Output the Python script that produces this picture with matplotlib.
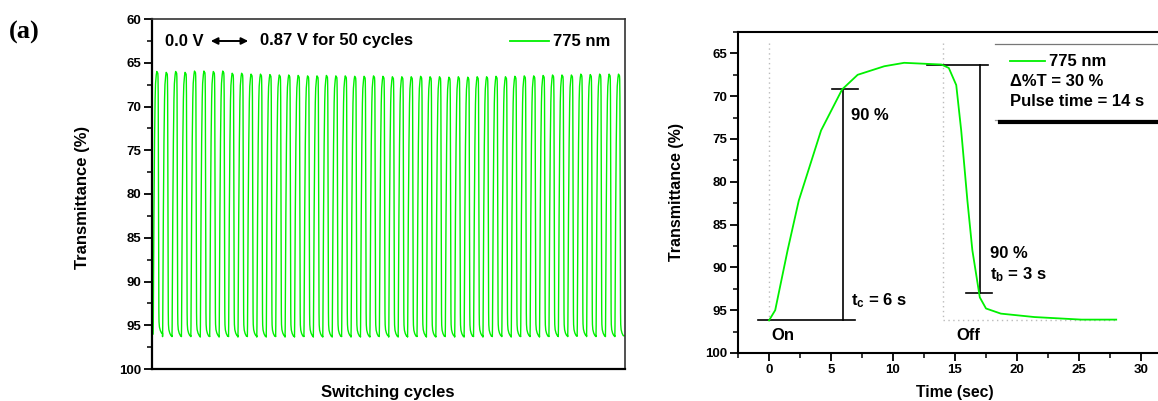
import numpy as np
import matplotlib
matplotlib.use("Agg")
import matplotlib.pyplot as plt
from matplotlib.lines import Line2D
from matplotlib.ticker import MultipleLocator

plt.rcParams['font.family'] = ['Liberation Sans', 'DejaVu Sans']
plt.rcParams['font.weight'] = 'bold'

# ---------------- data ----------------
# single switching cycle (right panel), time in s, transmittance in %
cycle_time = [0, 0.5, 1.5, 2.4, 4.2, 5.9, 7.15, 9.3, 10.9, 13.9, 14.5, 15.1,
              15.5, 16.0, 16.4, 17.0, 17.5, 18.7, 21.4, 25.2, 28.0]
cycle_T = [96.2, 95.0, 88.0, 82.2, 74.0, 69.2, 67.5, 66.5, 66.1, 66.3, 66.7, 68.7,
           74.0, 82.2, 88.0, 93.5, 94.8, 95.4, 95.8, 96.1, 96.1]

# 50 switching cycles (left panel): bleached (top) and coloured (bottom) levels
peak_T = [66.0, 66.1, 66.0, 66.1, 65.95, 65.95, 66.0, 65.95, 66.2, 66.2,
          66.3, 66.3, 66.35, 66.4, 66.4, 66.45, 66.5, 66.5, 66.45, 66.5,
          66.5, 66.55, 66.55, 66.5, 66.55, 66.6, 66.6, 66.6, 66.55, 66.6,
          66.6, 66.65, 66.6, 66.65, 66.6, 66.6, 66.55, 66.6, 66.55, 66.5,
          66.5, 66.45, 66.4, 66.4, 66.4, 66.3, 66.35, 66.3, 66.3, 66.3]
trough_T = [96.0, 96.3, 96.3, 96.3, 96.3, 96.35, 96.3, 96.35, 96.3, 96.35,
            96.3, 96.35, 96.35, 96.3, 96.35, 96.35, 96.3, 96.35, 96.35, 96.35,
            96.3, 96.35, 96.35, 96.35, 96.3, 96.35, 96.35, 96.35, 96.3, 96.35,
            96.35, 96.3, 96.35, 96.35, 96.3, 96.35, 96.3, 96.3, 96.35, 96.3,
            96.3, 96.35, 96.3, 96.3, 96.3, 96.25, 96.3, 96.3, 96.3, 96.3]

left_yticks = [60, 65, 70, 75, 80, 85, 90, 95, 100]
right_yticks = [65, 70, 75, 80, 85, 90, 95, 100]
right_xticks = [0, 5, 10, 15, 20, 25, 30]

GREEN = '#00f000'
W, H = 1158, 401
TXT = 12
TICK = 9.5

fig = plt.figure(figsize=(W / 100, H / 100), dpi=100)


def fx(px):
    return px / W


def fy(py):
    return 1 - py / H


# ---------------- left panel ----------------
axL = fig.add_axes([fx(152), fy(369), fx(625) - fx(152), fy(19) - fy(369)])
ct = np.array(cycle_time)
cT = np.array(cycle_T)
frac = (cT.max() - cT) / (cT.max() - cT.min())
period = ct[-1]
xs, ys = [], []
for i, (pk, tr) in enumerate(zip(peak_T, trough_T)):
    xs.append(i + ct / period)
    ys.append(tr + frac * (pk - tr))
axL.plot(np.concatenate(xs), np.concatenate(ys), color=GREEN, lw=1.0)
axL.set_xlim(-0.12, 50.08)
axL.set_ylim(100, 60)
axL.set_yticks(left_yticks)
axL.yaxis.set_minor_locator(MultipleLocator(2.5))
axL.set_xticks([])
axL.tick_params(axis='y', which='major', direction='out', length=6, width=1.3,
                labelsize=TICK, pad=1.5)
axL.tick_params(axis='y', which='minor', direction='out', length=3.5, width=1.1)
for lab in axL.get_yticklabels():
    lab.set_fontweight('bold')
for s in ['left', 'bottom']:
    axL.spines[s].set_linewidth(1.6)
for s in ['top', 'right']:
    axL.spines[s].set_linewidth(1.2)
    axL.spines[s].set_color('#333333')
fig.text(fx(83), fy(197), 'Transmittance (%)', fontsize=12, fontweight='bold',
         rotation=90, ha='center', va='center')
fig.text(fx(388), fy(392), 'Switching cycles', fontsize=12, fontweight='bold',
         ha='center', va='center')

fig.text(fx(165), fy(41), '0.0 V', fontsize=TXT, fontweight='bold', ha='left', va='center')
fig.add_artist(matplotlib.patches.FancyArrowPatch(
    (fx(208), fy(41)), (fx(251), fy(41)), transform=fig.transFigure,
    arrowstyle='<|-|>', mutation_scale=10, color='black', lw=1.4))
fig.text(fx(260), fy(41), '0.87 V for 50 cycles', fontsize=TXT, fontweight='bold',
         ha='left', va='center')
fig.add_artist(Line2D([fx(510), fx(549)], [fy(41), fy(41)], color=GREEN, lw=1.3))
fig.text(fx(553), fy(41), '775 nm', fontsize=TXT, fontweight='bold', ha='left', va='center')

fig.text(fx(9), fy(32), '(a)', fontsize=19, family=['Liberation Serif'],
         fontweight='bold', ha='left', va='center')

# ---------------- right panel ----------------
x0 = 738
x_right = 769 + 32.5 * 12.4
axR = fig.add_axes([fx(x0), fy(353), fx(x_right) - fx(x0), fy(32) - fy(353)])
axR.set_xlim(-2.5, 32.5)
axR.set_ylim(100, 62.5)

# guide lines
dot = dict(color='#bbbbbb', lw=1.0, ls=(0, (1, 2.5)))
axR.plot([0, 0], [63.8, 96.2], **dot)
axR.plot([14, 14], [63.8, 96.2], **dot)
axR.plot([14, 28], [96.2, 96.2], **dot)

axR.plot(cycle_time, cycle_T, color=GREEN, lw=1.3, zorder=3)

blk = dict(color='black', lw=1.2)
axR.plot([-0.85, 6.9], [96.2, 96.2], **blk)
axR.plot([6.0, 6.0], [69.2, 96.2], **blk)
axR.plot([5.1, 7.2], [69.2, 69.2], **blk)
axR.plot([12.75, 17.7], [66.3, 66.3], **blk)
axR.plot([17.0, 17.0], [66.3, 93.0], **blk)
axR.plot([15.9, 18.0], [93.0, 93.0], **blk)

axR.text(6.6, 72.2, '90 %', fontsize=TXT, fontweight='bold', ha='left', va='center')
axR.text(6.6, 93.9, r'$\mathregular{t_{c}}$ = 6 s', fontsize=TXT, fontweight='bold',
         ha='left', va='center')
axR.text(0.2, 97.9, 'On', fontsize=TXT, fontweight='bold', ha='left', va='center')
axR.text(17.8, 88.4, '90 %', fontsize=TXT, fontweight='bold', ha='left', va='center')
axR.text(17.8, 90.8, r'$\mathregular{t_{b}}$ = 3 s', fontsize=TXT, fontweight='bold',
         ha='left', va='center')
axR.text(15.1, 97.9, 'Off', fontsize=TXT, fontweight='bold', ha='left', va='center')

axR.set_yticks(right_yticks)
axR.set_xticks(right_xticks)
axR.xaxis.set_minor_locator(MultipleLocator(2.5))
axR.yaxis.set_minor_locator(MultipleLocator(2.5))
axR.tick_params(which='major', direction='out', length=6, width=1.3, labelsize=TICK, pad=2)
axR.tick_params(which='minor', direction='out', length=3.5, width=1.1)
for lab in axR.get_yticklabels() + axR.get_xticklabels():
    lab.set_fontweight('bold')
for s in ['left', 'bottom', 'top', 'right']:
    axR.spines[s].set_linewidth(1.5)
fig.text(fx(676), fy(192), 'Transmittance (%)', fontsize=11.5, fontweight='bold',
         rotation=90, ha='center', va='center')
fig.text(fx(955), fy(392), 'Time (sec)', fontsize=11.3, fontweight='bold',
         ha='center', va='center')

# legend box in right panel
fig.add_artist(Line2D([fx(995), 1.0], [fy(43.5), fy(43.5)], color='#777777', lw=0.9))
fig.add_artist(Line2D([fx(995), 1.0], [fy(119.5), fy(119.5)], color='#999999', lw=0.9))
fig.add_artist(Line2D([fx(1000), 1.0], [fy(122), fy(122)], color='black', lw=3.0))
fig.add_artist(Line2D([fx(1010), fx(1045)], [fy(61), fy(61)], color=GREEN, lw=1.3))
fig.text(fx(1049), fy(61), '775 nm', fontsize=TXT, fontweight='bold', ha='left', va='center')
fig.text(fx(1010), fy(82), 'Δ%T = 30 %', fontsize=TXT, fontweight='bold', ha='left', va='center')
fig.text(fx(1010), fy(102), 'Pulse time = 14 s', fontsize=TXT, fontweight='bold',
         ha='left', va='center')

fig.savefig('out.png', dpi=100)
